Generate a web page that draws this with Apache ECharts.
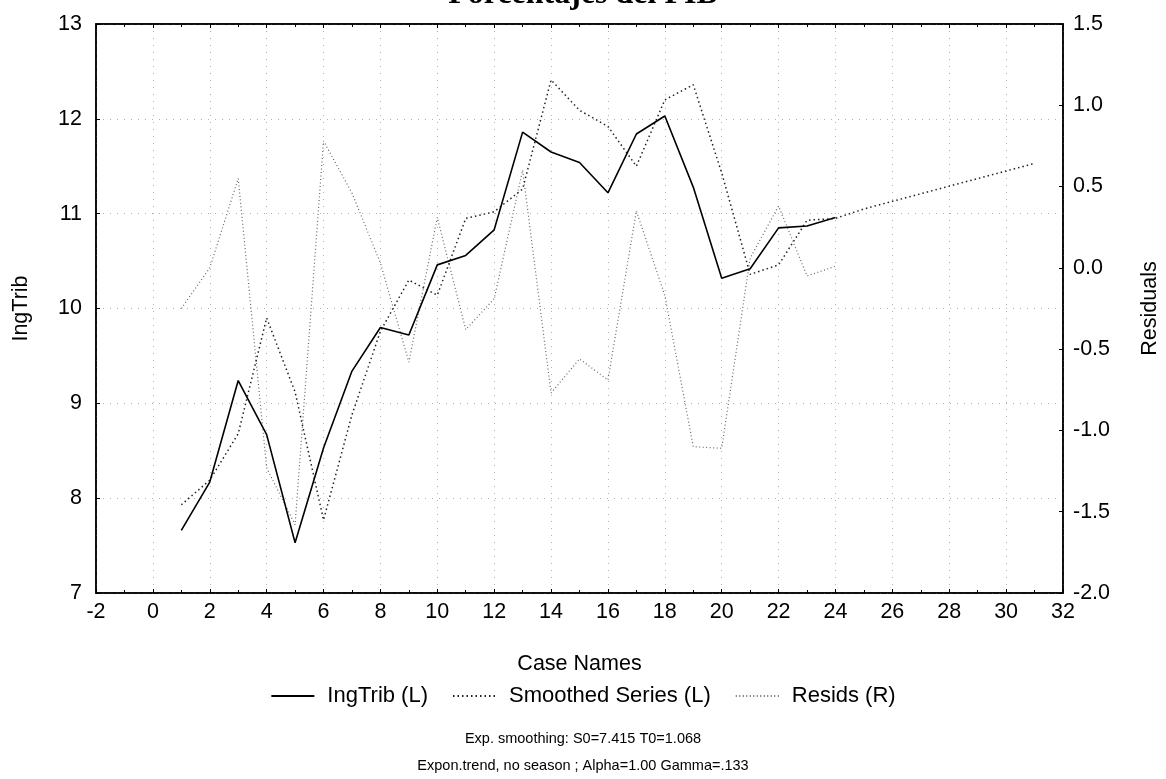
<!DOCTYPE html>
<html>
<head>
<meta charset="utf-8">
<title>Porcentajes del PIB</title>
<script src="https://cdn.jsdelivr.net/npm/echarts@6/dist/echarts.min.js"></script>
<style>
  html, body { margin: 0; padding: 0; background: #fff; }
  #chart { width: 1166px; height: 779px; }
</style>
</head>
<body>
<div id="chart"></div>
<script>
// Case numbers of the observed series
const cases = [1, 2, 3, 4, 5, 6, 7, 8, 9, 10, 11, 12, 13, 14, 15, 16, 17, 18, 19, 20, 21, 22, 23, 24];
// Observed IngTrib (left axis)
const ingTrib = [7.66, 8.17, 9.24, 8.67, 7.53, 8.53, 9.34, 9.80, 9.72, 10.46, 10.56, 10.83,
                 11.86, 11.65, 11.54, 11.22, 11.84, 12.03, 11.28, 10.32, 10.42, 10.85, 10.87, 10.96];
// Smoothed series incl. forecast horizon (left axis)
const smoothedCases = [1, 2, 3, 4, 5, 6, 7, 8, 9, 10, 11, 12, 13, 14, 15, 16, 17, 18, 19, 20,
                       21, 22, 23, 24, 25, 26, 27, 28, 29, 30, 31];
const smoothed = [7.93, 8.19, 8.68, 9.90, 9.12, 7.77, 8.88, 9.76, 10.30, 10.14, 10.95, 11.02,
                  11.26, 12.41, 12.09, 11.92, 11.50, 12.20, 12.36, 11.43, 10.36, 10.46, 10.93, 10.95,
                  11.05, 11.13, 11.21, 11.29, 11.37, 11.45, 11.53];
// Residuals (right axis)
const resids = [-0.25, 0.00, 0.55, -1.23, -1.58, 0.78, 0.46, 0.03, -0.58, 0.31, -0.38, -0.19,
                0.60, -0.77, -0.56, -0.69, 0.35, -0.17, -1.10, -1.11, 0.06, 0.38, -0.05, 0.01];

const xTicks = { min: -2, max: 32, interval: 2 };
const leftTicks = { min: 7, max: 13, interval: 1 };
const rightTicks = { min: -2, max: 1.5, interval: 0.5 };

const pairs = (xs, ys) => ys.map((v, i) => [xs[i], v]);

const FONT = '"Liberation Sans", Arial, sans-serif';
const gridLine = { show: true, lineStyle: { color: '#b0b0b0', type: [1, 6], width: 1 } };

const chart = echarts.init(document.getElementById('chart'), null, { renderer: 'canvas' });

chart.setOption({
  backgroundColor: '#fff',
  animation: false,
  title: {
    text: 'Porcentajes del PIB',
    left: 'center',
    top: -26,
    textStyle: { fontFamily: '"Liberation Serif", "Times New Roman", serif', fontWeight: 'bold', fontSize: 32, color: '#000' }
  },
  grid: {
    left: 96, right: 103, top: 24, bottom: 186,
    outerBoundsMode: 'none',
    show: true, borderColor: '#000', borderWidth: 1.5, backgroundColor: 'transparent'
  },
  legend: {
    bottom: 67,
    left: 'center',
    itemWidth: 43,
    itemHeight: 14,
    itemGap: 24,
    itemStyle: { opacity: 0 },
    textStyle: { fontFamily: FONT, fontSize: 22, color: '#000', padding: [0, 0, 0, 8] },
    data: ['IngTrib (L)', 'Smoothed Series (L)', 'Resids (R)']
  },
  xAxis: [{
    type: 'value',
    min: xTicks.min, max: xTicks.max, interval: xTicks.interval,
    name: 'Case Names', nameLocation: 'middle', nameGap: 60,
    nameTextStyle: { fontFamily: FONT, fontSize: 21.5, color: '#000' },
    axisLine: { show: true, onZero: false, lineStyle: { color: '#000', width: 1.5 } },
    axisTick: { show: true, inside: true, length: 4, lineStyle: { color: '#000' } },
    minorTick: { show: true, splitNumber: 2, length: 3, lineStyle: { color: '#000' } },
    axisLabel: { fontFamily: FONT, fontSize: 21.5, color: '#000', margin: 8 },
    splitLine: gridLine
  }, {
    type: 'value', position: 'top',
    min: xTicks.min, max: xTicks.max, interval: xTicks.interval,
    axisLine: { show: true, onZero: false, lineStyle: { color: '#000', width: 1.5 } },
    axisTick: { show: true, inside: true, length: 4, lineStyle: { color: '#000' } },
    minorTick: { show: true, splitNumber: 2, length: 3, lineStyle: { color: '#000' } },
    axisLabel: { show: false },
    splitLine: { show: false }
  }],
  yAxis: [{
    type: 'value', position: 'left',
    min: leftTicks.min, max: leftTicks.max, interval: leftTicks.interval,
    name: 'IngTrib', nameLocation: 'middle', nameGap: 64, nameRotate: 90,
    nameTextStyle: { fontFamily: FONT, fontSize: 21.5, color: '#000' },
    axisLine: { show: true, onZero: false, lineStyle: { color: '#000', width: 1.5 } },
    axisTick: { show: true, inside: true, length: 4, lineStyle: { color: '#000' } },
    axisLabel: { fontFamily: FONT, fontSize: 21.5, color: '#000', margin: 14 },
    splitLine: gridLine
  }, {
    type: 'value', position: 'right',
    min: rightTicks.min, max: rightTicks.max, interval: rightTicks.interval,
    name: 'Residuals', nameLocation: 'middle', nameGap: 76, nameRotate: 90,
    nameTextStyle: { fontFamily: FONT, fontSize: 21.5, color: '#000' },
    axisLine: { show: true, onZero: false, lineStyle: { color: '#000', width: 1.5 } },
    axisTick: { show: true, inside: true, length: 4, lineStyle: { color: '#000' } },
    axisLabel: { fontFamily: FONT, fontSize: 21.5, color: '#000', margin: 10,
                 formatter: v => v.toFixed(1) },
    splitLine: { show: false }
  }],
  series: [{
    name: 'Resids (R)', type: 'line', yAxisIndex: 1, xAxisIndex: 0,
    data: pairs(cases, resids), symbol: 'none',
    itemStyle: { color: '#666' },
    lineStyle: { color: '#666', width: 1.2, type: [1, 2.5] }, z: 2
  }, {
    name: 'Smoothed Series (L)', type: 'line', yAxisIndex: 0, xAxisIndex: 0,
    data: pairs(smoothedCases, smoothed), symbol: 'none',
    itemStyle: { color: '#222' },
    lineStyle: { color: '#222', width: 1.5, type: [1.5, 3] }, z: 3
  }, {
    name: 'IngTrib (L)', type: 'line', yAxisIndex: 0, xAxisIndex: 0,
    data: pairs(cases, ingTrib), symbol: 'none',
    itemStyle: { color: '#000' },
    lineStyle: { color: '#000', width: 1.6 }, z: 4
  }],
  graphic: [{
    type: 'text', left: 'center', top: 731,
    style: { text: 'Exp. smoothing: S0=7.415 T0=1.068', font: '14.5px ' + FONT, fill: '#000' }
  }, {
    type: 'text', left: 'center', top: 758,
    style: { text: 'Expon.trend, no season ; Alpha=1.00 Gamma=.133', font: '14.5px ' + FONT, fill: '#000' }
  }]
});
</script>
</body>
</html>
